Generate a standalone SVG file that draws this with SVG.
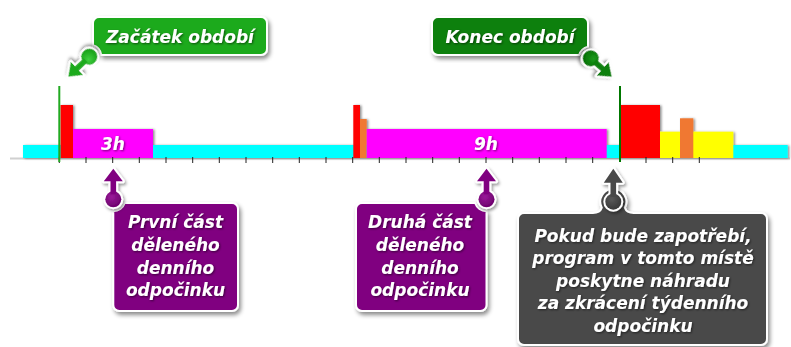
<svg xmlns="http://www.w3.org/2000/svg" width="791" height="347" viewBox="0 0 791 347">
  <defs>
    <filter id="boxShadow" x="-10%" y="-10%" width="125%" height="130%">
      <feDropShadow dx="2" dy="3" stdDeviation="2.2" flood-color="#000" flood-opacity="0.45"/>
    </filter>
    <filter id="ptrShadow" x="-50%" y="-50%" width="200%" height="200%">
      <feDropShadow dx="1.5" dy="2" stdDeviation="1.5" flood-color="#000" flood-opacity="0.4"/>
    </filter>
    <filter id="barShadow" x="-5%" y="-20%" width="110%" height="140%">
      <feDropShadow dx="1.5" dy="0.5" stdDeviation="1" flood-color="#000" flood-opacity="0.45"/>
    </filter>
    <filter id="txtShadow" x="-10%" y="-20%" width="120%" height="150%">
      <feDropShadow dx="1" dy="1" stdDeviation="0.8" flood-color="#000" flood-opacity="0.55"/>
    </filter>
    <filter id="axisBlur" x="-5%" y="-200%" width="110%" height="500%">
      <feGaussianBlur stdDeviation="1.2"/>
    </filter>
    <radialGradient id="gGreen" cx="0.4" cy="0.35" r="0.7">
      <stop offset="0" stop-color="#3fcf3f"/><stop offset="1" stop-color="#139a13"/>
    </radialGradient>
    <radialGradient id="gDkGreen" cx="0.4" cy="0.35" r="0.7">
      <stop offset="0" stop-color="#1a9a1a"/><stop offset="1" stop-color="#006a00"/>
    </radialGradient>
    <radialGradient id="gPurple" cx="0.4" cy="0.35" r="0.7">
      <stop offset="0" stop-color="#9a1a9a"/><stop offset="1" stop-color="#6a006a"/>
    </radialGradient>
    <radialGradient id="gGray" cx="0.4" cy="0.35" r="0.7">
      <stop offset="0" stop-color="#5a5a5a"/><stop offset="1" stop-color="#363636"/>
    </radialGradient>
  </defs>
  <style>
    .box { stroke: #ffffff; stroke-width: 2; }
    .lbl { font-family: "DejaVu Sans", "Verdana", sans-serif; font-weight: bold; font-style: italic; font-size: 17px; fill: #ffffff; text-anchor: middle; }
    .tick { stroke: #222222; stroke-width: 1; }
    .outline { fill: #ffffff; stroke: #ffffff; stroke-width: 4; stroke-linejoin: round; }
  </style>

  <!-- timeline -->
  <g id="timeline">
    <line x1="10" y1="161" x2="790" y2="161" stroke="#777" stroke-width="2.5" filter="url(#axisBlur)"/>
    <line x1="10" y1="158.5" x2="790" y2="158.5" stroke="#d0d0d0" stroke-width="2"/>
    <g id="bars" filter="url(#barShadow)">
      <rect x="23" y="145" width="764.7" height="13" fill="#00ffff"/>
      <rect x="60.5" y="105" width="12.5" height="53" fill="#ff0000"/>
      <rect x="73" y="129" width="80" height="29" fill="#ff00ff"/>
      <rect x="353.3" y="105" width="6.7" height="53" fill="#ff0000"/>
      <rect x="360" y="119" width="6.7" height="39" fill="#f07830"/>
      <rect x="366.7" y="129" width="240" height="29" fill="#ff00ff"/>
      <rect x="620" y="105" width="40" height="53" fill="#ff0000"/>
      <rect x="660" y="131.7" width="73.3" height="26.3" fill="#ffff00"/>
      <rect x="680" y="118.3" width="13.3" height="39.7" fill="#f07830"/>
    </g>
    <g id="ticks">
      <line class="tick" x1="59.3" y1="157" x2="59.3" y2="163"/>
      <line class="tick" x1="86" y1="157" x2="86" y2="163"/>
      <line class="tick" x1="112.7" y1="157" x2="112.7" y2="163"/>
      <line class="tick" x1="139.3" y1="157" x2="139.3" y2="163"/>
      <line class="tick" x1="166" y1="157" x2="166" y2="163"/>
      <line class="tick" x1="192.7" y1="157" x2="192.7" y2="163"/>
      <line class="tick" x1="219.3" y1="157" x2="219.3" y2="163"/>
      <line class="tick" x1="246" y1="157" x2="246" y2="163"/>
      <line class="tick" x1="272.7" y1="157" x2="272.7" y2="163"/>
      <line class="tick" x1="299.3" y1="157" x2="299.3" y2="163"/>
      <line class="tick" x1="326" y1="157" x2="326" y2="163"/>
      <line class="tick" x1="352.7" y1="157" x2="352.7" y2="163"/>
      <line class="tick" x1="379.3" y1="157" x2="379.3" y2="163"/>
      <line class="tick" x1="406" y1="157" x2="406" y2="163"/>
      <line class="tick" x1="432.7" y1="157" x2="432.7" y2="163"/>
      <line class="tick" x1="459.3" y1="157" x2="459.3" y2="163"/>
      <line class="tick" x1="486" y1="157" x2="486" y2="163"/>
      <line class="tick" x1="512.7" y1="157" x2="512.7" y2="163"/>
      <line class="tick" x1="539.3" y1="157" x2="539.3" y2="163"/>
      <line class="tick" x1="566" y1="157" x2="566" y2="163"/>
      <line class="tick" x1="592.7" y1="157" x2="592.7" y2="163"/>
      <line class="tick" x1="646" y1="157" x2="646" y2="163"/>
      <line class="tick" x1="672.7" y1="157" x2="672.7" y2="163"/>
      <line class="tick" x1="699.3" y1="157" x2="699.3" y2="163"/>
    </g>
    <line x1="59.3" y1="86" x2="59.3" y2="162" stroke="#22aa22" stroke-width="2"/>
    <line x1="620" y1="86" x2="620" y2="162" stroke="#007700" stroke-width="2"/>
    <g filter="url(#txtShadow)">
      <text class="lbl" x="113" y="150">3h</text>
      <text class="lbl" x="486" y="150">9h</text>
    </g>
  </g>

  <!-- nodes -->
  <g id="start">
    <path class="box" filter="url(#boxShadow)" fill="#1faa1f" d="M99,17 H261 A6,6 0 0 1 267,23 V49 A6,6 0 0 1 261,55 H101.2 A12,12 0 0 0 93,45.3 V23 A6,6 0 0 1 99,17 Z"/>
    <text class="lbl" x="180" y="43" filter="url(#txtShadow)">Začátek období</text>
  </g>
  <g id="end">
    <path class="box" filter="url(#boxShadow)" fill="#0b800b" d="M438,17 H582 A6,6 0 0 1 588,23 V46.6 A12,12 0 0 0 579.2,55 H438 A6,6 0 0 1 432,49 V23 A6,6 0 0 1 438,17 Z"/>
    <text class="lbl" x="510" y="43" filter="url(#txtShadow)">Konec období</text>
  </g>
  <g id="part1">
    <path class="box" filter="url(#boxShadow)" fill="#800080" d="M124.7,203 H232 A6,6 0 0 1 238,209 V305 A6,6 0 0 1 232,311 H119.3 A6,6 0 0 1 113.3,305 V211.3 A12,12 0 0 0 124.7,203 Z"/>
    <g filter="url(#txtShadow)">
      <text class="lbl" x="175.5" y="228.3">První část</text>
      <text class="lbl" x="175.5" y="250.9">děleného</text>
      <text class="lbl" x="175.5" y="273.5">denního</text>
      <text class="lbl" x="175.5" y="296.1">odpočinku</text>
    </g>
  </g>
  <g id="part2">
    <path class="box" filter="url(#boxShadow)" fill="#800080" d="M362,203 H475.1 A12,12 0 0 0 486.5,211.3 V305 A6,6 0 0 1 480.5,311 H362 A6,6 0 0 1 356,305 V209 A6,6 0 0 1 362,203 Z"/>
    <g filter="url(#txtShadow)">
      <text class="lbl" x="420" y="228.3">Druhá část</text>
      <text class="lbl" x="420" y="250.9">děleného</text>
      <text class="lbl" x="420" y="273.5">denního</text>
      <text class="lbl" x="420" y="296.1">odpočinku</text>
    </g>
  </g>
  <g id="note">
    <path class="box" filter="url(#boxShadow)" fill="#4a4a4a" d="M524,213 H593 Q600,213 601.8,207.7 A13,13 0 1 1 624.8,207.7 Q626.6,213 633.6,213 H761 A6,6 0 0 1 767,219 V339 A6,6 0 0 1 761,345 H524 A6,6 0 0 1 518,339 V219 A6,6 0 0 1 524,213 Z"/>
    <g filter="url(#txtShadow)">
      <text class="lbl" x="643" y="241.7">Pokud bude zapotřebí,</text>
      <text class="lbl" x="643" y="264.2">program v tomto místě</text>
      <text class="lbl" x="643" y="286.7">poskytne náhradu</text>
      <text class="lbl" x="643" y="309.2">za zkrácení týdenního</text>
      <text class="lbl" x="643" y="331.7">odpočinku</text>
    </g>
  </g>

  <!-- connectors (pointer arrows) -->
  <g id="connectors">
    <g transform="translate(89.3,56.7) rotate(-133.6)" filter="url(#ptrShadow)">
      <circle class="outline" r="8"/>
      <path class="outline" d="M-2.8,-5 V-17 H-9 L0,-29 L9,-17 H2.8 V-5 Z"/>
      <circle r="8" fill="url(#gGreen)"/>
      <path d="M-2.8,-5 V-17 H-9 L0,-29 L9,-17 H2.8 V-5 Z" fill="#1faa1f"/>
    </g>
    <g transform="translate(590.7,58.3) rotate(131.2)" filter="url(#ptrShadow)">
      <circle class="outline" r="8"/>
      <path class="outline" d="M-2.8,-5 V-16 H-9 L0,-27.9 L9,-16 H2.8 V-5 Z"/>
      <circle r="8" fill="url(#gDkGreen)"/>
      <path d="M-2.8,-5 V-16 H-9 L0,-27.9 L9,-16 H2.8 V-5 Z" fill="#0b800b"/>
    </g>
    <g transform="translate(113.3,199.3)" filter="url(#ptrShadow)">
      <circle class="outline" r="8"/>
      <path class="outline" d="M-2.8,-5 V-18 H-9.5 L0,-30.5 L9.5,-18 H2.8 V-5 Z"/>
      <circle r="8" fill="url(#gPurple)"/>
      <path d="M-2.8,-5 V-18 H-9.5 L0,-30.5 L9.5,-18 H2.8 V-5 Z" fill="#800080"/>
    </g>
    <g transform="translate(486.5,199.3)" filter="url(#ptrShadow)">
      <circle class="outline" r="8"/>
      <path class="outline" d="M-2.8,-5 V-18 H-9.5 L0,-30.5 L9.5,-18 H2.8 V-5 Z"/>
      <circle r="8" fill="url(#gPurple)"/>
      <path d="M-2.8,-5 V-18 H-9.5 L0,-30.5 L9.5,-18 H2.8 V-5 Z" fill="#800080"/>
    </g>
    <g transform="translate(613.3,201.7)" filter="url(#ptrShadow)">
      <circle class="outline" r="8"/>
      <path class="outline" d="M-2.8,-5 V-19 H-9.5 L0,-33 L9.5,-19 H2.8 V-5 Z"/>
      <circle r="8" fill="url(#gGray)"/>
      <path d="M-2.8,-5 V-19 H-9.5 L0,-33 L9.5,-19 H2.8 V-5 Z" fill="#4a4a4a"/>
    </g>
  </g>
</svg>
